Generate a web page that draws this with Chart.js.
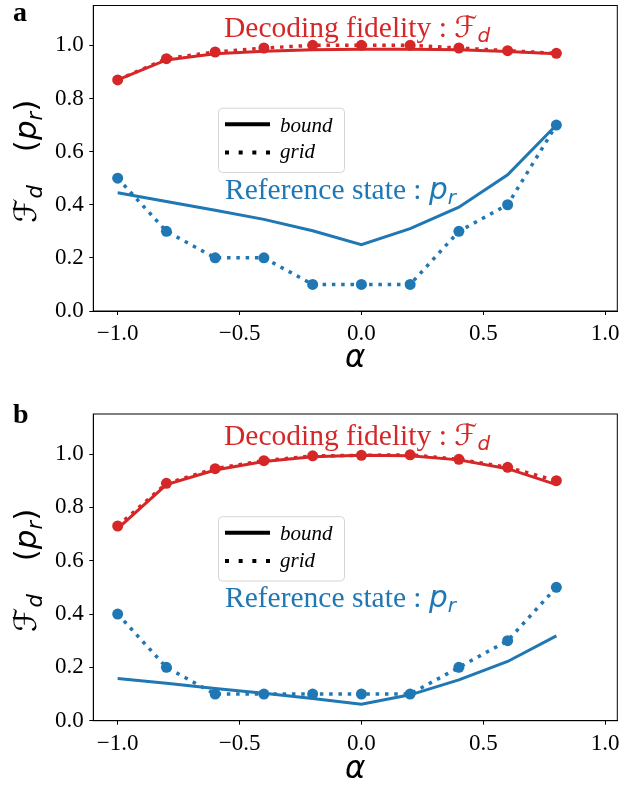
<!DOCTYPE html>
<html>
<head>
<meta charset="utf-8">
<script src="https://cdn.jsdelivr.net/npm/chart.js@4.4.1/dist/chart.umd.min.js"></script>
<style>
  body { margin: 0; background: #fff; }
  #wrap { position: relative; width: 644px; height: 787px; }
  canvas { position: absolute; left: 0; }
</style>
</head>
<body>
<div id="wrap">
  <canvas id="chartA" width="644" height="390" style="top:0"></canvas>
  <canvas id="chartB" width="644" height="397" style="top:390px"></canvas>
</div>
<script>
// data
const alpha = [-1.0, -0.8, -0.6, -0.4, -0.2, 0.0, 0.2, 0.4, 0.6, 0.8];

// panel a
const fdBoundA = [0.870, 0.945, 0.968, 0.978, 0.983, 0.985, 0.985, 0.983, 0.977, 0.968];
const fdGridA  = [0.870, 0.950, 0.975, 0.990, 1.000, 1.000, 1.000, 0.990, 0.980, 0.970];
const prBoundA = [0.445, 0.412, 0.379, 0.345, 0.302, 0.250, 0.310, 0.391, 0.513, 0.700];
const prGridA  = [0.5, 0.3, 0.2, 0.2, 0.1, 0.1, 0.1, 0.3, 0.4, 0.7];

// panel b
const fdBoundB = [0.720, 0.885, 0.940, 0.972, 0.990, 0.995, 0.993, 0.978, 0.945, 0.885];
const fdGridB  = [0.730, 0.890, 0.945, 0.975, 0.993, 0.995, 0.997, 0.980, 0.950, 0.900];
const prBoundB = [0.158, 0.140, 0.121, 0.103, 0.083, 0.062, 0.097, 0.153, 0.222, 0.318];
const prGridB  = [0.4, 0.2, 0.1, 0.1, 0.1, 0.1, 0.1, 0.2, 0.3, 0.5];

const xTickVals = [-1.0, -0.5, 0.0, 0.5, 1.0];
const yTickVals = [0.0, 0.2, 0.4, 0.6, 0.8, 1.0];

const RED = "#d62728";
const BLUE = "#1f77b4";
const serif = "'Liberation Serif', 'Times New Roman', serif";
const sans = "'DejaVu Sans', sans-serif";

// draw a run of text pieces (for sub-scripts), returns end x
function drawParts(ctx, parts, x, y, measureOnly) {
    parts.forEach((p) => {
        ctx.font = p.font;
        if (p.gap) { x += p.gap; return; }
        if (!measureOnly) ctx.fillText(p.t, x, y + (p.dy || 0));
        x += ctx.measureText(p.t).width;
    });
    return x;
}

const panelDecor = {
    id: "panelDecor",
    afterDraw(chart, args, opts) {
        const ctx = chart.ctx;
        const a = chart.chartArea;
        ctx.save();
        ctx.textAlign = "left";
        ctx.textBaseline = "alphabetic";

        // top/right spines
        ctx.strokeStyle = "#000";
        ctx.lineWidth = 1;
        ctx.strokeRect(a.left, a.top, a.right - a.left, a.bottom - a.top);

        // panel letter
        ctx.fillStyle = "#000";
        ctx.font = "bold 28px " + serif;
        ctx.fillText(opts.letter, 13, opts.letterY);

        // curve labels
        ctx.fillStyle = RED;
        drawParts(ctx, [
            { t: "Decoding fidelity : ", font: "29.5px " + serif },
            { t: "\u2131", font: "29.5px " + sans },
            { t: "d", font: "italic 20px " + sans, dy: 5 },
        ], 224, a.top + 31);
        ctx.fillStyle = BLUE;
        drawParts(ctx, [
            { t: "Reference state : ", font: "29.5px " + serif },
            { t: "p", font: "italic 29.5px " + sans },
            { t: "r", font: "italic 20px " + sans, dy: 5 },
        ], 225, a.top + 193);

        // legend box
        const ly = a.top + 102.7;
        ctx.beginPath();
        ctx.roundRect(218.5, ly, 126, 64.3, 4);
        ctx.fillStyle = "rgba(255,255,255,0.8)";
        ctx.fill();
        ctx.strokeStyle = "#d5d5d5";
        ctx.stroke();
        ctx.strokeStyle = "#000";
        ctx.lineWidth = 4;
        ctx.beginPath();
        ctx.moveTo(225, ly + 16);
        ctx.lineTo(270, ly + 16);
        ctx.stroke();
        ctx.setLineDash([4, 9.67]);
        ctx.beginPath();
        ctx.moveTo(225, ly + 44.3);
        ctx.lineTo(270, ly + 44.3);
        ctx.stroke();
        ctx.setLineDash([]);
        ctx.fillStyle = "#000";
        ctx.font = "italic 21px " + serif;
        ctx.fillText("bound", 280, ly + 23.3);
        ctx.fillText("grid", 280, ly + 50);

        // y label, rotated
        const yParts = [
            { t: "\u2131", font: "31px " + sans },
            { t: "d", font: "italic 21px " + sans, dy: 6 },
            { gap: 33, font: "31px " + sans },
            { t: "(", font: "31px " + sans },
            { t: "p", font: "italic 31px " + sans },
            { t: "r", font: "italic 21px " + sans, dy: 6 },
            { t: ")", font: "31px " + sans },
        ];
        ctx.translate(36, (a.top + a.bottom) / 2 + 3);
        ctx.rotate(-Math.PI / 2);
        const w = drawParts(ctx, yParts, 0, 0, true);
        drawParts(ctx, yParts, -w / 2, 0, false);
        ctx.restore();
    },
};

function fmtTick(v) {
    const s = Math.abs(v).toFixed(1);
    return v < -1e-9 ? "\u2212" + s : s;
}

function makeChart(id, fdBound, fdGrid, prBound, prGrid, deco) {
    const pts = (ys) => alpha.map((x, i) => ({ x: x, y: ys[i] }));
    const solid = (ys, color) => ({
        data: pts(ys), borderColor: color, borderWidth: 3, pointRadius: 0,
    });
    const dotted = (ys, color) => ({
        data: pts(ys), borderColor: color, borderWidth: 3.5, borderDash: [3.5, 5.8],
        pointRadius: 5.5, pointBackgroundColor: color, pointBorderWidth: 0,
    });
    const tickFont = { family: serif, size: 23 };

    return new Chart(document.getElementById(id), {
        type: "line",
        data: {
            datasets: [
                solid(fdBound, RED),
                dotted(fdGrid, RED),
                solid(prBound, BLUE),
                dotted(prGrid, BLUE),
            ],
        },
        options: {
            responsive: false,
            animation: false,
            devicePixelRatio: 1,
            layout: { padding: { left: 0, right: 26.7, top: deco.top, bottom: 0 } },
            plugins: {
                legend: { display: false },
                tooltip: { enabled: false },
                panelDecor: deco,
            },
            scales: {
                x: {
                    type: "linear",
                    min: -1.1,
                    max: 1.05,
                    afterBuildTicks: (s) => { s.ticks = xTickVals.map((v) => ({ value: v })); },
                    afterFit: (s) => {
                        s.height = deco.xAxisH;
                        s.paddingLeft = 0;
                        s.paddingRight = 0;
                    },
                    ticks: {
                        font: tickFont, color: "#000", padding: 5,
                        autoSkip: false, maxRotation: 0,
                        callback: (v) => fmtTick(v),
                    },
                    grid: { drawOnChartArea: false, drawTicks: true, tickLength: 4, color: "#000" },
                    border: { display: true, color: "#000", width: 1 },
                    title: {
                        display: true, text: "\u03b1", color: "#000",
                        font: { family: sans, size: 31, style: "italic", lineHeight: 1 },
                        padding: { top: 0, bottom: deco.titlePad },
                    },
                },
                y: {
                    type: "linear",
                    min: 0,
                    max: 1.15,
                    afterBuildTicks: (s) => { s.ticks = yTickVals.map((v) => ({ value: v })); },
                    afterFit: (s) => {
                        s.width = 93.3;
                        s.paddingTop = 0;
                        s.paddingBottom = 0;
                    },
                    ticks: {
                        font: tickFont, color: "#000", padding: 5.5,
                        callback: (v) => fmtTick(v),
                    },
                    grid: { drawOnChartArea: false, drawTicks: true, tickLength: 4, color: "#000" },
                    border: { display: true, color: "#000", width: 1 },
                },
            },
        },
        plugins: [panelDecor],
    });
}

makeChart("chartA", fdBoundA, fdGridA, prBoundA, prGridA,
    { letter: "a", letterY: 20.7, top: 4, xAxisH: 79, titlePad: 15.5 });
makeChart("chartB", fdBoundB, fdGridB, prBoundB, prGridB,
    { letter: "b", letterY: 33.3, top: 24, xAxisH: 66.3, titlePad: 1.5 });
</script>
</body>
</html>
